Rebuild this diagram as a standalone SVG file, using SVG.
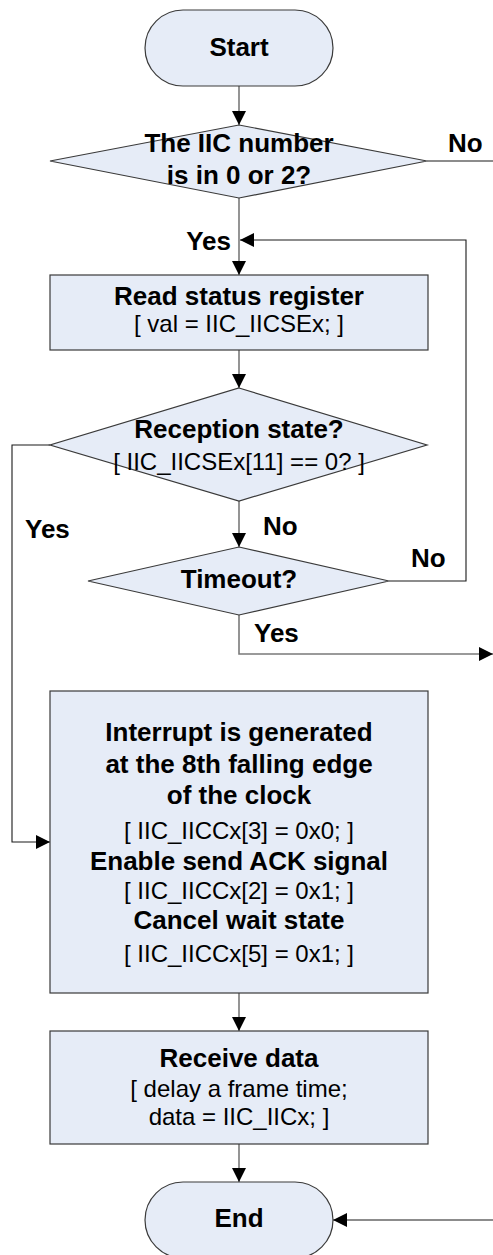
<svg xmlns="http://www.w3.org/2000/svg" width="493" height="1255" viewBox="0 0 493 1255">
  <style>
    .node { fill: #e6ecf7; stroke: #3a3a3a; stroke-width: 1.2; }
    .flow { fill: none; stroke: #7a7a7a; stroke-width: 1.6; }
    .link { fill: none; stroke: #1a1a1a; stroke-width: 1.1; }
    .grey { fill: none; stroke: #7a7a7a; stroke-width: 1.6; }
    text { font-family: "Liberation Sans", Arial, sans-serif; fill: #000; }
    .t { font-size: 26px; font-weight: bold; text-anchor: middle; }
    .c { font-size: 24px; text-anchor: middle; }
    .lbl { font-size: 26px; font-weight: bold; }
  </style>
  <defs>
    <marker id="arrow" markerUnits="userSpaceOnUse" markerWidth="14" markerHeight="14" refX="14" refY="7" orient="auto">
      <path d="M0,0 L14,7 L0,14 z" fill="#000"/>
    </marker>
  </defs>

  <!-- connectors -->
  <g id="connectors">
    <line class="flow" x1="239" y1="86" x2="239" y2="125" marker-end="url(#arrow)"/>
    <line class="flow" x1="239" y1="198" x2="239" y2="275" marker-end="url(#arrow)"/>
    <line class="link" x1="427" y1="161" x2="493" y2="161"/>
    <line class="flow" x1="239" y1="350" x2="239" y2="388" marker-end="url(#arrow)"/>
    <line class="flow" x1="239" y1="501" x2="239" y2="547" marker-end="url(#arrow)"/>
    <polyline class="link" points="50,445 12,445 12,842 50,842" marker-end="url(#arrow)"/>
    <polyline class="link" points="389,581 466,581 466,240 240,240" marker-end="url(#arrow)"/>
    <polyline class="grey" points="239,615 239,654 493,654" marker-end="url(#arrow)"/>
    <line class="flow" x1="239" y1="993" x2="239" y2="1031" marker-end="url(#arrow)"/>
    <line class="flow" x1="239" y1="1144" x2="239" y2="1182" marker-end="url(#arrow)"/>
    <line class="link" x1="493" y1="1220" x2="333" y2="1220" marker-end="url(#arrow)"/>
    <text class="lbl" x="448" y="152">No</text>
    <text class="lbl" x="231" y="250" text-anchor="end">Yes</text>
    <text class="lbl" x="25" y="538">Yes</text>
    <text class="lbl" x="263" y="535">No</text>
    <text class="lbl" x="411" y="567">No</text>
    <text class="lbl" x="254" y="642">Yes</text>
  </g>

  <g id="start">
    <rect class="node" x="145" y="10" width="188" height="76" rx="38" ry="38"/>
    <text class="t" x="239" y="56">Start</text>
  </g>

  <g id="check-iic">
    <polygon class="node" points="239,125 427,161 239,198 50,161"/>
    <text class="t" x="239" y="152">The IIC number</text>
    <text class="t" x="239" y="184">is in 0 or 2?</text>
  </g>

  <g id="read-status">
    <rect class="node" x="50" y="275" width="378" height="75"/>
    <text class="t" x="239" y="305">Read status register</text>
    <text class="c" x="239" y="332">[ val = IIC_IICSEx; ]</text>
  </g>

  <g id="reception">
    <polygon class="node" points="239,388 427,445 239,501 50,445"/>
    <text class="t" x="239" y="438">Reception state?</text>
    <text class="c" x="239" y="470">[ IIC_IICSEx[11] == 0? ]</text>
  </g>

  <g id="timeout">
    <polygon class="node" points="239,547 389,581 239,615 88,581"/>
    <text class="t" x="239" y="588">Timeout?</text>
  </g>

  <g id="setup">
    <rect class="node" x="50" y="691" width="378" height="302"/>
    <text class="t" x="239" y="741">Interrupt is generated</text>
    <text class="t" x="239" y="773">at the 8th falling edge</text>
    <text class="t" x="239" y="804">of the clock</text>
    <text class="c" x="239" y="839">[ IIC_IICCx[3] = 0x0; ]</text>
    <text class="t" x="239" y="870">Enable send ACK signal</text>
    <text class="c" x="239" y="899">[ IIC_IICCx[2] = 0x1; ]</text>
    <text class="t" x="239" y="929">Cancel wait state</text>
    <text class="c" x="239" y="962">[ IIC_IICCx[5] = 0x1; ]</text>
  </g>

  <g id="receive">
    <rect class="node" x="50" y="1031" width="378" height="113"/>
    <text class="t" x="239" y="1067">Receive data</text>
    <text class="c" x="239" y="1097">[ delay a frame time;</text>
    <text class="c" x="239" y="1125">data = IIC_IICx; ]</text>
  </g>

  <g id="end">
    <rect class="node" x="145" y="1182" width="188" height="76" rx="38" ry="38"/>
    <text class="t" x="239" y="1227">End</text>
  </g>
</svg>
